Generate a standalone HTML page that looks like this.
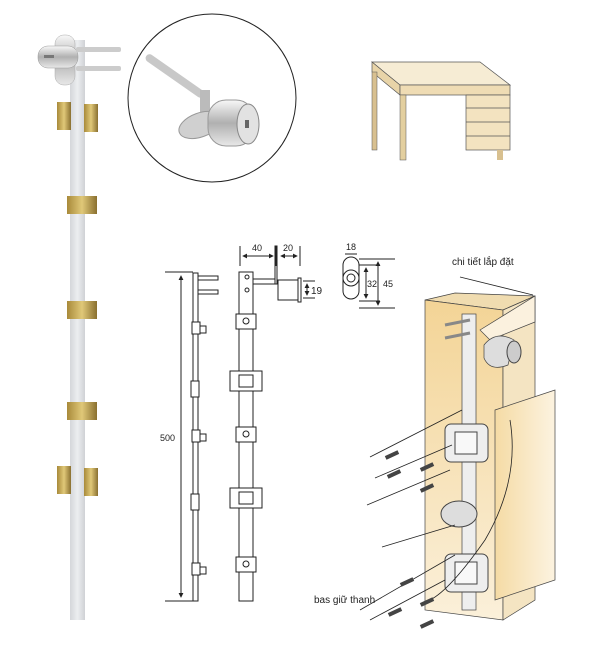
<!DOCTYPE html>
<html><head><meta charset="utf-8"><style>
html,body{margin:0;padding:0;background:#fff;width:601px;height:645px;overflow:hidden}
text{font-family:"Liberation Sans",sans-serif}
</style></head><body>
<svg width="601" height="645" viewBox="0 0 601 645" xmlns="http://www.w3.org/2000/svg">
<defs>
<linearGradient id="bar" x1="0" x2="1"><stop offset="0" stop-color="#d4d6da"/><stop offset=".5" stop-color="#eceef0"/><stop offset="1" stop-color="#cfd1d5"/></linearGradient>
<linearGradient id="gold" x1="0" x2="1"><stop offset="0" stop-color="#a88a3a"/><stop offset=".5" stop-color="#e0c878"/><stop offset="1" stop-color="#8a7030"/></linearGradient>
<linearGradient id="wood" x1="0" x2="1"><stop offset="0" stop-color="#f5dba5"/><stop offset="1" stop-color="#fcf3e0"/></linearGradient>
<linearGradient id="wood2" x1="0" y1="0" x2="0" y2="1"><stop offset="0" stop-color="#f3d496"/><stop offset="1" stop-color="#fbf0da"/></linearGradient>
<linearGradient id="chrome" x1="0" y1="0" x2="0" y2="1"><stop offset="0" stop-color="#f8f8f8"/><stop offset=".5" stop-color="#b0b0b0"/><stop offset="1" stop-color="#e8e8e8"/></linearGradient>
<marker id="ar" viewBox="0 0 6 6" refX="5" refY="3" markerWidth="5" markerHeight="5" orient="auto-start-reverse"><path d="M0 0L6 3L0 6Z" fill="#222"/></marker>
</defs>
<!-- left product photo -->
<rect x="70" y="40" width="15" height="580" fill="url(#bar)"/>
<rect x="55" y="35" width="20" height="50" rx="9" fill="url(#chrome)" stroke="#aaa" stroke-width=".5"/>
<rect x="38" y="46" width="40" height="22" rx="10" fill="url(#chrome)" stroke="#999" stroke-width=".5"/>
<rect x="44" y="55" width="10" height="3" fill="#777"/>
<rect x="76" y="47" width="45" height="5" rx="2" fill="#ccc"/>
<rect x="76" y="66" width="45" height="5" rx="2" fill="#ccc"/>
<rect x="57" y="102" width="14" height="28" fill="url(#gold)"/><rect x="84" y="104" width="14" height="28" fill="url(#gold)"/>
<rect x="67" y="196" width="30" height="18" fill="url(#gold)"/>
<rect x="67" y="301" width="30" height="18" fill="url(#gold)"/>
<rect x="67" y="402" width="30" height="18" fill="url(#gold)"/>
<rect x="57" y="466" width="14" height="28" fill="url(#gold)"/><rect x="84" y="468" width="14" height="28" fill="url(#gold)"/>
<!-- circle photo -->
<circle cx="212" cy="98" r="84" fill="#fff" stroke="#222" stroke-width="1"/>
<rect x="140" y="72" width="70" height="8" rx="4" fill="#c8c8c8" transform="rotate(35 175 76)"/>
<rect x="200" y="90" width="10" height="30" fill="#bbb"/>
<ellipse cx="200" cy="125" rx="22" ry="12" fill="#d0d0d0" stroke="#999" transform="rotate(-20 200 125)"/>
<rect x="208" y="100" width="46" height="46" rx="18" fill="url(#chrome)" stroke="#999"/>
<ellipse cx="248" cy="124" rx="11" ry="20" fill="#e2e2e2" stroke="#888"/>
<rect x="245" y="120" width="4" height="8" fill="#666"/>
<!-- desk -->
<polygon points="372,62 480,62 510,85 400,85" fill="#f6ecd4" stroke="#555" stroke-width=".7"/>
<polygon points="372,62 400,85 400,95 372,72" fill="#e8d4a8" stroke="#555" stroke-width=".7"/>
<rect x="400" y="85" width="110" height="10" fill="#efdcb4" stroke="#555" stroke-width=".7"/>
<rect x="466" y="95" width="44" height="55" fill="#f3e3c0" stroke="#555" stroke-width=".7"/>
<line x1="466" y1="108" x2="510" y2="108" stroke="#555" stroke-width=".7"/><line x1="466" y1="122" x2="510" y2="122" stroke="#555" stroke-width=".7"/><line x1="466" y1="136" x2="510" y2="136" stroke="#555" stroke-width=".7"/>
<rect x="372" y="72" width="5" height="78" fill="#d8c090" stroke="#555" stroke-width=".5"/><rect x="400" y="95" width="6" height="65" fill="#e3cf9f" stroke="#555" stroke-width=".5"/>
<rect x="497" y="150" width="6" height="10" fill="#d8c090"/>
<!-- technical drawing -->
<g stroke="#222" stroke-width="1" fill="#fff">
<line x1="165" y1="272" x2="193" y2="272"/><line x1="165" y1="601" x2="193" y2="601"/>
<line x1="181" y1="276" x2="181" y2="597" marker-start="url(#ar)" marker-end="url(#ar)"/>
<rect x="193" y="273" width="5" height="328"/>
<rect x="198" y="276" width="20" height="4"/><rect x="198" y="290" width="20" height="4"/>
<rect x="192" y="322" width="8" height="12"/><rect x="200" y="326" width="6" height="7"/>
<rect x="191" y="381" width="8" height="16"/>
<rect x="192" y="430" width="8" height="12"/><rect x="200" y="434" width="6" height="7"/>
<rect x="191" y="494" width="8" height="16"/>
<rect x="192" y="563" width="8" height="12"/><rect x="200" y="567" width="6" height="7"/>
<rect x="239" y="272" width="14" height="329"/>
<circle cx="247" cy="277" r="2"/><circle cx="247" cy="290" r="2"/>
<rect x="236" y="314" width="20" height="15"/><circle cx="246" cy="321" r="3"/>
<rect x="230" y="371" width="32" height="20"/><rect x="239" y="375" width="14" height="12"/>
<rect x="236" y="427" width="20" height="15"/><circle cx="246" cy="434" r="3"/>
<rect x="230" y="488" width="32" height="20"/><rect x="239" y="492" width="14" height="12"/>
<rect x="236" y="557" width="20" height="15"/><circle cx="246" cy="564" r="3"/>
<rect x="253" y="279" width="23" height="5"/><rect x="275" y="246" width="2" height="38"/>
<rect x="278" y="280" width="22" height="20"/><rect x="298" y="278" width="3" height="24"/>
<line x1="240" y1="246" x2="240" y2="266"/><line x1="276" y1="246" x2="276" y2="266"/><line x1="300" y1="246" x2="300" y2="266"/>
<line x1="243" y1="256" x2="273" y2="256" marker-start="url(#ar)" marker-end="url(#ar)"/><line x1="281" y1="256" x2="297" y2="256" marker-start="url(#ar)" marker-end="url(#ar)"/>
<line x1="303" y1="281" x2="315" y2="281"/><line x1="303" y1="298" x2="315" y2="298"/><line x1="307" y1="284" x2="307" y2="295" marker-start="url(#ar)" marker-end="url(#ar)"/>
<rect x="343" y="257" width="16" height="42" rx="8"/><circle cx="351" cy="278" r="8"/><circle cx="351" cy="278" r="4"/>
<line x1="345" y1="254" x2="357" y2="254"/><line x1="359" y1="265" x2="380" y2="265"/><line x1="359" y1="301" x2="380" y2="301"/><line x1="359" y1="259" x2="395" y2="259"/><line x1="359" y1="308" x2="395" y2="308"/>
<line x1="366" y1="268" x2="366" y2="298" marker-start="url(#ar)" marker-end="url(#ar)"/><line x1="378" y1="262" x2="378" y2="305" marker-start="url(#ar)" marker-end="url(#ar)"/>
</g>
<g font-size="9" fill="#222">
<text x="160" y="441">500</text><text x="252" y="251">40</text><text x="283" y="251">20</text>
<text x="311" y="294" font-size="10">19</text><text x="346" y="250">18</text><text x="367" y="287">32</text><text x="383" y="287">45</text>
</g>
<!-- installation -->
<polygon points="425,300 455,293 535,296 503,310" fill="#f0dcb0" stroke="#444" stroke-width=".7"/>
<polygon points="425,300 503,310 503,620 425,610" fill="url(#wood2)" stroke="#444" stroke-width=".7"/>
<polygon points="503,310 535,296 535,600 503,620" fill="#f4e4c2" stroke="#444" stroke-width=".7"/>
<polygon points="480,330 535,296 535,322 490,340" fill="#fbf1de" stroke="#444" stroke-width=".7"/>
<polygon points="495,410 555,390 555,580 495,600" fill="url(#wood)" stroke="#444" stroke-width=".7"/>
<rect x="462" y="314" width="14" height="296" fill="#eee" stroke="#444" stroke-width=".7"/>
<line x1="445" y1="325" x2="470" y2="320" stroke="#888" stroke-width="3"/><line x1="445" y1="338" x2="470" y2="333" stroke="#888" stroke-width="3"/>
<path d="M484 345 Q496 330 514 340 L508 365 Q490 372 484 358Z" fill="#ddd" stroke="#444" stroke-width=".7"/>
<ellipse cx="514" cy="352" rx="7" ry="11" fill="#ccc" stroke="#444"/>
<rect x="445" y="424" width="43" height="38" rx="6" fill="#eee" stroke="#444"/>
<rect x="455" y="432" width="22" height="22" fill="#f8f8f8" stroke="#444"/>
<rect x="445" y="554" width="43" height="38" rx="6" fill="#eee" stroke="#444"/>
<rect x="455" y="562" width="22" height="22" fill="#f8f8f8" stroke="#444"/>
<ellipse cx="459" cy="514" rx="18" ry="13" fill="#ddd" stroke="#444"/>
<g stroke="#222" stroke-width=".8" fill="none">
<line x1="460" y1="277" x2="533" y2="295"/>
<line x1="370" y1="457" x2="462" y2="410"/><line x1="375" y1="478" x2="452" y2="445"/>
<line x1="367" y1="505" x2="450" y2="470"/><line x1="382" y1="547" x2="455" y2="525"/>
<line x1="370" y1="620" x2="445" y2="580"/><line x1="360" y1="610" x2="455" y2="555"/>
<path d="M510 420 Q520 480 485 540 Q450 590 430 600"/>
</g>
<g fill="#444">
<rect x="385" y="453" width="14" height="4" transform="rotate(-25 392 455)"/><rect x="387" y="472" width="14" height="4" transform="rotate(-25 394 474)"/>
<rect x="420" y="465" width="14" height="4" transform="rotate(-25 427 467)"/><rect x="420" y="486" width="14" height="4" transform="rotate(-25 427 488)"/>
<rect x="400" y="580" width="14" height="4" transform="rotate(-25 407 582)"/><rect x="388" y="610" width="14" height="4" transform="rotate(-25 395 612)"/>
<rect x="420" y="600" width="14" height="4" transform="rotate(-25 427 602)"/><rect x="420" y="622" width="14" height="4" transform="rotate(-25 427 624)"/>
</g>
<text x="452" y="265" font-size="10" fill="#222">chi tiết lắp đặt</text>
<text x="314" y="603" font-size="10" fill="#222">bas giữ thanh</text>
</svg>
</body></html>
